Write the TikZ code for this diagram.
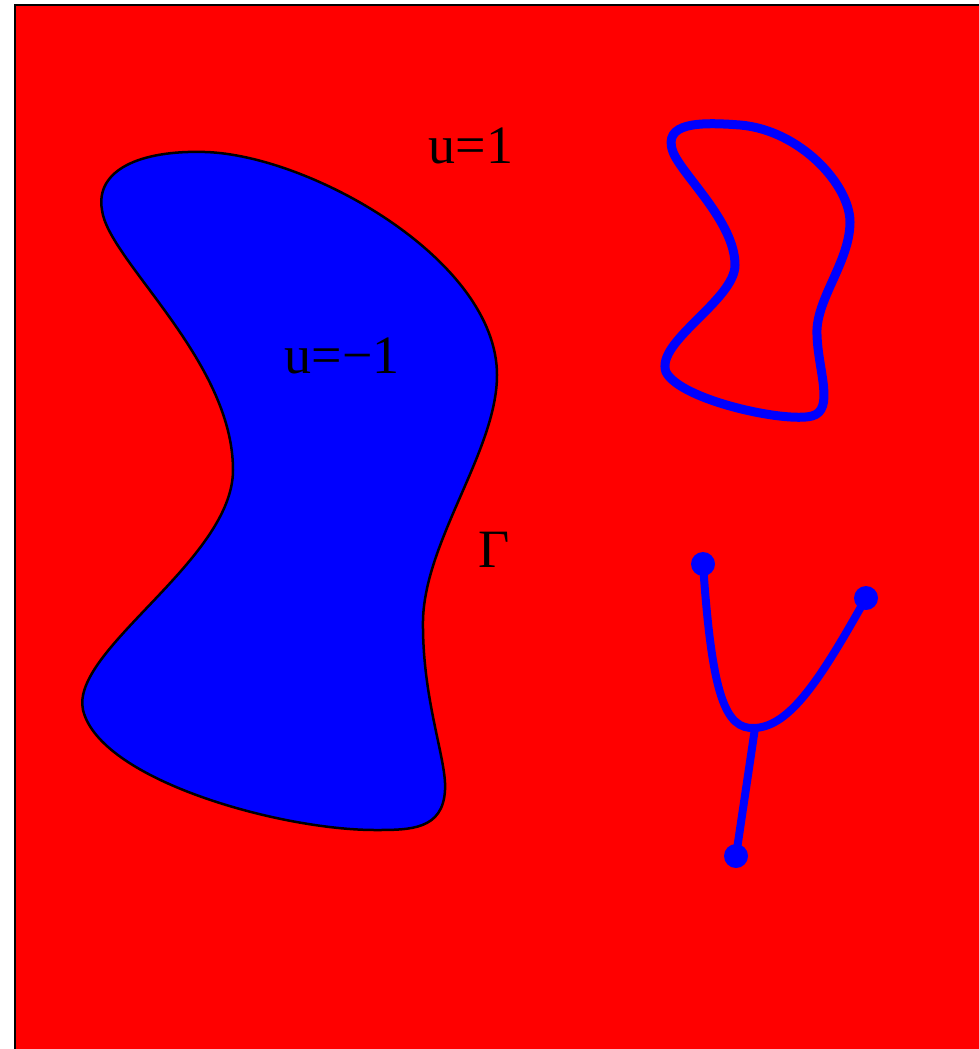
\documentclass[tikz,border=0pt]{standalone}
\usepackage{fontspec}
\setmainfont{Liberation Serif}
\begin{document}
\begin{tikzpicture}[x=1pt,y=-1pt,
  lbl/.style={anchor=base,inner sep=0pt,font=\fontsize{54}{60}\selectfont},
  bluedot/.style={circle,fill=blue,inner sep=0pt,minimum size=24pt},
  wire/.style={blue,line width=8pt,line cap=round}]
\useasboundingbox (0,0) rectangle (978,1049);
\fill[red] (15,5) rectangle (990,1060);
\draw[black,line width=2pt] (15,1060) -- (15,5) -- (990,5);
% blue domain
\draw[fill=blue,line width=2.5pt] (102,210)
  .. controls (95,170) and (140,150) .. (205,152)
  .. controls (310,155) and (497,260) .. (497,375)
  .. controls (497,450) and (425,540) .. (423,620)
  .. controls (422,700) and (447,760) .. (445,790)
  .. controls (443,830) and (410,830) .. (375,830)
  .. controls (280,830) and (100,780) .. (83,710)
  .. controls (70,650) and (233,560) .. (233,470)
  .. controls (233,360) and (108,260) .. (102,210) -- cycle;
% blue loop
\draw[blue,line width=9pt] (673,152)
  .. controls (662,122) and (700,122) .. (740,125)
  .. controls (800,130) and (850,185) .. (850,222)
  .. controls (850,262) and (815,300) .. (817,335)
  .. controls (818,370) and (835,410) .. (812,416)
  .. controls (785,423) and (680,400) .. (666,372)
  .. controls (655,342) and (735,300) .. (735,265)
  .. controls (735,222) and (682,175) .. (673,152) -- cycle;
% labels
\node[lbl] (u1) at (471,163) {u=1};
\node[lbl] (um1) at (342,373) {u=\textminus1};
\node[lbl] (gam) at (494,567) {Γ};
% Y-shaped curve
\node[bluedot] (p1) at (703,564) {};
\node[bluedot] (p2) at (866,598) {};
\node[bluedot] (p3) at (736,856) {};
\coordinate (j) at (755,728);
\draw[wire] (p1.center) .. controls (712,695) and (725,730) .. (j)
  .. controls (790,726) and (820,680) .. (p2.center);
\draw[wire] (j) -- (p3.center);
\end{tikzpicture}
\end{document}
